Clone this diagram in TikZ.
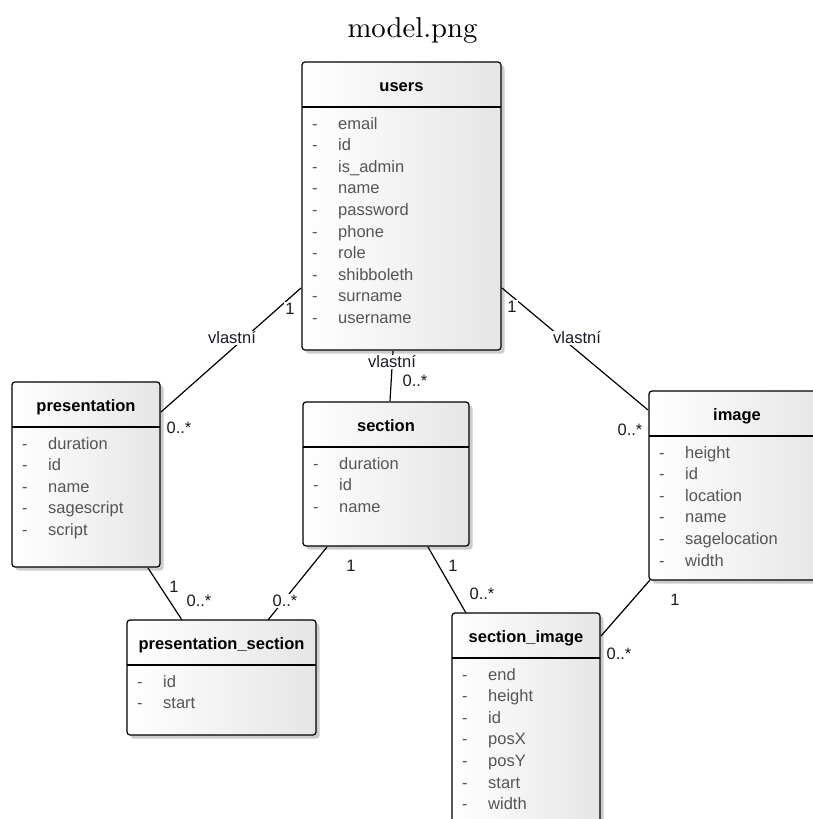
\documentclass[tikz,border=0pt]{standalone}
\usepackage{fontspec}
\newfontfamily\umlfont{Liberation Sans}
\usetikzlibrary{calc,shadows}
\definecolor{attrgray}{RGB}{85,85,85}
\definecolor{labelink}{RGB}{25,25,40}

\tikzset{
  classbox/.style={draw=black, line width=1.2pt, rounded corners=3pt,
    inner sep=0pt, outer sep=0pt, anchor=north west,
    left color=white, right color=black!10,
    drop shadow={shadow xshift=3.5pt, shadow yshift=-3.5pt, fill=black!20, opacity=1}},
  divider/.style={line width=1.4pt},
  classtitle/.style={font=\umlfont\bfseries\fontsize{16.5}{19}\selectfont,
    anchor=base, inner sep=0pt},
  attr/.style={font=\umlfont\fontsize{16.5}{19}\selectfont, text=attrgray,
    anchor=base west, inner sep=0pt},
  assoc/.style={line width=1.2pt, draw=black},
  mult/.style={font=\umlfont\fontsize{16.5}{19}\selectfont, text=labelink,
    fill=white, inner sep=1pt},
}

% class box: name, x, y, width, height, title, attributes
\newcommand\umlclass[7]{%
  \node[classbox, minimum width=#4pt, minimum height=#5pt] (#1) at (#2,#3) {};
  \draw[divider] ([yshift=-45pt]#1.north west) -- ([yshift=-45pt]#1.north east);
  \node[classtitle] (#1-title) at ([yshift=-29pt]#1.north) {#6};
  \foreach \attrname [count=\k] in {#7} {
    \node[attr] (#1-dash-\k) at ([xshift=10pt, yshift={-67pt-(\k-1)*21.6pt}]#1.north west) {-};
    \node[attr] (#1-attr-\k) at ([xshift=36pt, yshift={-67pt-(\k-1)*21.6pt}]#1.north west) {\attrname};
  }%
}

\begin{document}
\begin{tikzpicture}[x=1pt, y=-1pt]
\useasboundingbox (0,0) rectangle (813,819);
\clip (0,0) rectangle (813,819);

\node[anchor=base, inner sep=0pt] (caption) at (412.5,37) {\scalebox{2.87}{model.png}};

% classes
\umlclass{users}{302}{62}{199}{288}{users}
  {email,id,is\_admin,name,password,phone,role,shibboleth,surname,username}
\umlclass{presentation}{12}{382}{148}{185}{presentation}
  {duration,id,name,sagescript,script}
\umlclass{section}{303}{402}{166}{144}{section}
  {duration,id,name}
\umlclass{image}{649}{391}{176}{189}{image}
  {height,id,location,name,sagelocation,width}
\umlclass{pres_sec}{127}{620}{189}{115}{presentation\_section}
  {id,start}
\umlclass{sec_image}{452}{613}{148}{250}{section\_image}
  {end,height,id,posX,posY,start,width}

% associations
\draw[assoc] ($(users.north west)+(-1,226)$) -- ($(presentation.north east)+(1,30)$);
\draw[assoc] ($(users.north east)+(1,226)$) -- ($(image.north west)+(-1,19)$);
\draw[assoc] ($(users.south west)+(91,1)$) -- ($(section.north west)+(87,-1)$);
\draw[assoc] ($(presentation.south west)+(136,1)$) -- ($(pres_sec.north west)+(55,0)$);
\draw[assoc] ($(section.south west)+(24,1)$) -- ($(pres_sec.north west)+(141,0)$);
\draw[assoc] ($(section.south west)+(125,1)$) -- ($(sec_image.north west)+(14,0)$);
\draw[assoc] ($(image.south west)+(1,0)$) -- ($(sec_image.north east)+(1,23)$);

% association names and multiplicities
\node[mult] (own-p) at (232,338) {vlastní};
\node[mult] (own-i) at (577,338) {vlastní};
\node[mult] (own-s) at (392,362) {vlastní};

\node[mult] (m-up-1) at (290,309) {1};
\node[mult] (m-up-n) at (179,428) {0..*};
\node[mult] (m-ui-1) at (512,307) {1};
\node[mult] (m-ui-n) at (630,430) {0..*};
\node[mult] (m-us-n) at (415,381) {0..*};
\node[mult] (m-pp-1) at (174,587) {1};
\node[mult] (m-pp-n) at (199,601) {0..*};
\node[mult] (m-sp-1) at (351,566) {1};
\node[mult] (m-sp-n) at (285,601) {0..*};
\node[mult] (m-ss-1) at (453,566) {1};
\node[mult] (m-ss-n) at (482,594) {0..*};
\node[mult] (m-is-1) at (675,600) {1};
\node[mult] (m-is-n) at (619,654) {0..*};
\end{tikzpicture}
\end{document}
